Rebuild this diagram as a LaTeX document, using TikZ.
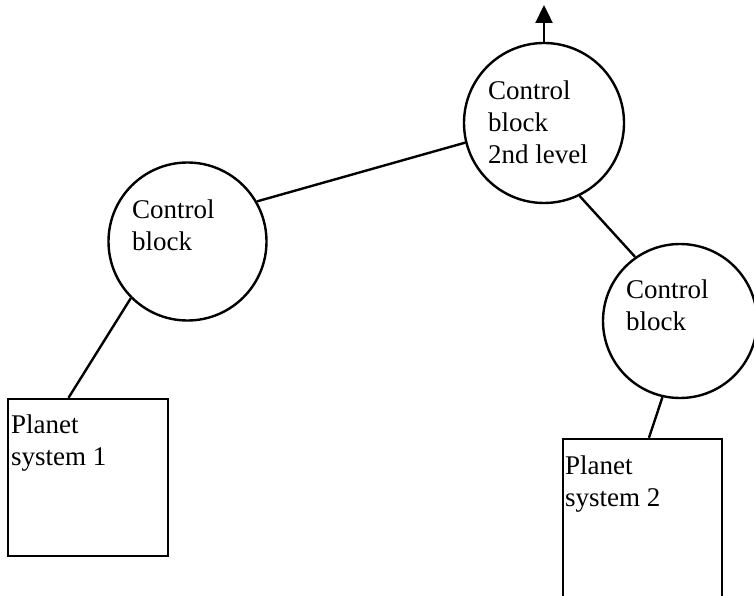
\documentclass[tikz,border=0pt]{standalone}
\usepackage{fontspec}
\setmainfont{Liberation Serif}
\usetikzlibrary{calc,arrows.meta}
\begin{document}
\begin{tikzpicture}[x=1pt,y=-1pt,
  blk/.style={circle,draw,line width=2.4pt,inner sep=0pt,minimum size=#1},
  sys/.style={draw,line width=2.4pt,inner sep=0pt},
  lbl/.style={anchor=base west,align=left,inner sep=0pt,font=\fontsize{27}{32}\selectfont},
  wire/.style={line width=2.4pt}]
\useasboundingbox (0,0) rectangle (754,596);
% circles
\node[blk=160pt] (T) at (544,123) {};
\node[blk=158pt] (L) at (187.5,241.5) {};
\node[blk=154pt] (R) at (680,321) {};
% boxes
\node[sys,minimum width=160pt,minimum height=157pt] (B1) at (88,477.5) {};
\node[sys,minimum width=159pt,minimum height=159pt] (B2) at (642.5,518.5) {};
% labels (base = baseline of last line)
\node[lbl] (tT) at (488,164) {Control\\block\\2nd level};
\node[lbl] (tL) at (132,250) {Control\\block};
\node[lbl] (tR) at (626,330) {Control\\block};
\node[lbl] (tB1) at (11,465) {Planet\\system 1};
\node[lbl] (tB2) at (565,506) {Planet\\system 2};
% connectors
\draw[wire] (L.30) -- (T.194);
\draw[wire] (L.225) -- ($(B1.north west)!0.38!(B1.north east)$);
\draw[wire] (T.-64) -- (R.125);
\draw[wire] (R.257) -- ($(B2.north west)!0.54!(B2.north east)$);
\coordinate (out) at (544,5);
\draw[wire,-{Triangle[length=18pt,width=17pt]}] (T.north) -- (out);
\end{tikzpicture}
\end{document}
